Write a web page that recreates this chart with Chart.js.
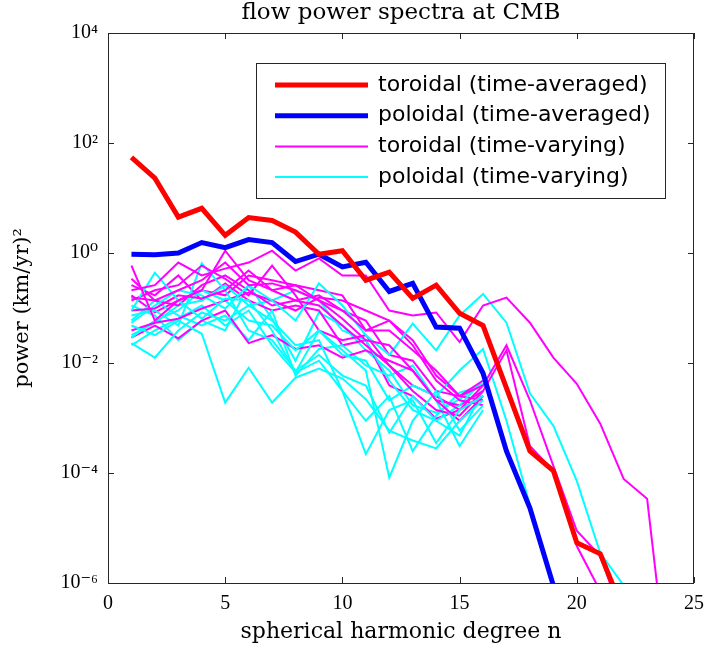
<!DOCTYPE html>
<html>
<head>
<meta charset="utf-8">
<script src="https://cdn.jsdelivr.net/npm/chart.js@4/dist/chart.umd.min.js"></script>
<style>
  html, body { margin: 0; padding: 0; background: #fff; }
  #wrap { width: 706px; height: 654px; position: relative; }
</style>
</head>
<body>
<div id="wrap"><canvas id="spectra"></canvas></div>
<script>
// --- Data ---
const degrees = [1, 2, 3, 4, 5, 6, 7, 8, 9, 10, 11, 12, 13, 14, 15, 16, 17, 18, 19, 20, 21, 22, 23, 24];

const toroidalMean = [55, 23, 4.5, 6.5, 2.1, 4.4, 3.9, 2.4, 0.95, 1.1, 0.32, 0.45, 0.15, 0.26, 0.08, 0.048,
    0.0035, 2.5e-4, 1.1e-4, 5.4e-6, 3.4e-6, 3e-7];
const poloidalMean = [0.95, 0.93, 1.0, 1.55, 1.25, 1.75, 1.55, 0.7, 0.95, 0.56, 0.68, 0.2, 0.28, 0.045, 0.043, 0.0065,
    2.5e-4, 2.3e-5, 9e-7, 3e-8];

// time-varying toroidal spectra (one array per epoch)
const toroidalRuns = [
    [0.59, 0.059, 0.137, 0.21, 1.1, 0.32, 0.21, 0.26, 0.137, 0.09, 0.039, 0.039, 0.017, 0.0073, 0.0025, 0.0039, 0.021, 0.0021, 1.35e-4, 8.9e-6, 3.1e-6, 2e-7],
    [0.21, 0.26, 0.67, 0.39, 0.52, 0.67, 1.1, 0.48, 0.8, 0.39, 0.39, 0.09, 0.073, 0.083, 0.024, 0.111, 0.155, 0.054, 0.0125, 0.0042, 7.9e-4, 7.8e-5, 3.4e-5, 7e-9],
    [0.155, 0.137, 0.21, 0.32, 0.67, 0.26, 0.28, 0.21, 0.137, 0.064, 0.026, 0.021, 0.0073, 0.0021, 8.9e-4, 0.0025],
    [0.09, 0.098, 0.17, 0.149, 0.21, 0.48, 0.21, 0.137, 0.111, 0.048, 0.021, 0.009, 0.0031, 0.0014, 0.0011, 0.0031, 0.017, 3.1e-4, 1.1e-4, 4.7e-6, 7.1e-7],
    [0.039, 0.054, 0.064, 0.098, 0.137, 0.19, 0.137, 0.09, 0.155, 0.137, 0.09, 0.059, 0.021, 0.0048, 0.0021, 0.0017],
    [0.137, 0.21, 0.26, 0.59, 0.34, 0.17, 0.59, 0.17, 0.039, 0.026, 0.032, 0.009, 0.0039, 0.0025, 0.0014, 0.0025],
    [0.34, 0.137, 0.111, 0.26, 0.39, 0.21, 0.111, 0.137, 0.17, 0.09, 0.059, 0.014, 0.011, 0.0031, 0.0025, 0.0048],
    [0.029, 0.048, 0.028, 0.059, 0.09, 0.023, 0.032, 0.018, 0.021, 0.0125, 0.017, 0.011, 0.0073, 0.0021, 0.0017, 0.0031],
    [0.17, 0.083, 0.137, 0.21, 0.17, 0.39, 0.32, 0.26, 0.21, 0.17, 0.039, 0.059, 0.026, 0.0059, 0.0025, 0.0021],
    [0.26, 0.17, 0.39, 0.137, 0.28, 0.137, 0.09, 0.111, 0.09, 0.021, 0.026, 0.0039, 0.0025, 9.7e-4, 0.0014, 0.0039]
];

// time-varying poloidal spectra
const poloidalRuns = [
    [0.048, 0.032, 0.059, 0.034, 0.0019, 0.0082, 0.0019, 0.0054, 0.0079, 0.0052, 0.0022, 5.9e-4, 3.9e-4, 2.8e-4, 8.9e-4, 0.0021],
    [0.023, 0.0125, 0.039, 0.083, 0.059, 0.111, 0.059, 0.021, 0.026, 0.0031, 2.2e-4, 0.0014, 0.0021, 3.5e-4, 0.0014, 0.0025],
    [0.09, 0.44, 0.137, 0.064, 0.149, 0.137, 0.039, 0.0067, 0.039, 0.017, 0.0073, 8.2e-5, 8.9e-4, 0.0031, 5.9e-4, 0.0017],
    [0.054, 0.111, 0.21, 0.17, 0.098, 0.26, 0.137, 0.059, 0.28, 0.111, 0.032, 0.014, 0.052, 0.017, 0.073, 0.18, 0.054, 0.0028, 7.2e-4, 7.2e-5, 3.5e-6, 9e-7, 2e-7],
    [0.029, 0.059, 0.09, 0.21, 0.137, 0.059, 0.048, 0.017, 0.039, 0.014, 0.011, 0.0021, 0.0039, 0.0025, 0.0073, 0.018, 8.9e-4, 2.6e-5],
    [0.073, 0.09, 0.048, 0.65, 0.21, 0.039, 0.026, 0.0073, 0.014, 0.0059, 0.0039, 5.4e-4, 0.0025, 8.9e-4, 4.8e-4, 0.0031],
    [0.032, 0.054, 0.111, 0.137, 0.26, 0.111, 0.137, 0.21, 0.137, 0.039, 0.026, 0.0048, 0.0014, 8.9e-4, 0.0017, 0.0048],
    [0.059, 0.137, 0.073, 0.048, 0.073, 0.026, 0.09, 0.0059, 0.018, 0.021, 0.009, 0.0059, 0.009, 0.0021, 3.1e-4, 0.0014],
    [0.021, 0.039, 0.064, 0.111, 0.048, 0.09, 0.021, 0.0067, 0.011, 0.0031, 8.9e-4, 0.0025, 2.5e-4, 0.0011, 0.0029, 0.0039],
    [0.111, 0.073, 0.026, 0.059, 0.039, 0.26, 0.064, 0.011, 0.083, 0.048, 0.017, 0.0073, 0.0017, 0.00125, 0.0022, 0.0042]
];

const legendLabels = ['toroidal (time-averaged)', 'poloidal (time-averaged)', 'toroidal (time-varying)', 'poloidal (time-varying)'];
const yTickValues = [1e-6, 1e-4, 1e-2, 1, 1e2, 1e4];
const yTickLabels = ['10\u207B\u2076', '10\u207B\u2074', '10\u207B\u00B2', '10\u2070', '10\u00B2', '10\u2074'];
const xTickValues = [0, 5, 10, 15, 20, 25];

const RED = '#ff0000', BLUE = '#0000ff', MAGENTA = '#ff00ff', CYAN = '#00ffff';
const AXIS = '#262626';
const SERIF = '"Liberation Serif", "DejaVu Serif", serif';
const WIDE_SERIF = '"DejaVu Serif", serif';

function toPoints(values) {
    return values.map((v, i) => ({ x: degrees[i], y: v }));
}

function lineSet(label, values, color, width) {
    return {
        label,
        data: toPoints(values),
        borderColor: color,
        backgroundColor: color,
        borderWidth: width,
        pointRadius: 0,
        tension: 0,
        fill: false,
        clip: 0,
        borderJoinStyle: 'miter'
    };
}

const datasets = [
    lineSet(legendLabels[0], toroidalMean, RED, 5),
    lineSet(legendLabels[1], poloidalMean, BLUE, 5)
];
// interleave the time-varying runs so neither colour sits entirely on top
toroidalRuns.forEach((run, i) => {
    datasets.push(lineSet(legendLabels[2], run, MAGENTA, 2));
    datasets.push(lineSet(legendLabels[3], poloidalRuns[i], CYAN, 2));
});

// --- Frame, inward ticks, title and legend (MATLAB style) ---
const framePlugin = {
    id: 'frame',
    afterDraw(chart) {
        const { ctx, chartArea: a, scales } = chart;
        ctx.save();
        ctx.strokeStyle = AXIS;
        ctx.lineWidth = 1;
        ctx.strokeRect(a.left + 0.5, a.top + 0.5, a.right - a.left - 1, a.bottom - a.top);
        const tl = 6;
        ctx.beginPath();
        xTickValues.forEach(v => {
            const px = Math.round(scales.x.getPixelForValue(v)) + 0.5;
            ctx.moveTo(px, a.bottom); ctx.lineTo(px, a.bottom - tl);
            ctx.moveTo(px, a.top); ctx.lineTo(px, a.top + tl);
        });
        yTickValues.forEach(v => {
            const py = Math.round(scales.y.getPixelForValue(v)) + 0.5;
            ctx.moveTo(a.left, py); ctx.lineTo(a.left + tl, py);
            ctx.moveTo(a.right, py); ctx.lineTo(a.right - tl, py);
        });
        ctx.stroke();

        // title
        ctx.fillStyle = '#000';
        ctx.font = '23px ' + WIDE_SERIF;
        ctx.textAlign = 'center';
        ctx.textBaseline = 'middle';
        ctx.fillText('flow power spectra at CMB', (a.left + a.right) / 2, 13);

        // legend
        const box = { x: 256, y: 63, w: 409, h: 135 };
        ctx.fillStyle = '#fff';
        ctx.fillRect(box.x, box.y, box.w, box.h);
        ctx.lineWidth = 1;
        ctx.strokeStyle = AXIS;
        ctx.strokeRect(box.x + 0.5, box.y + 0.5, box.w, box.h);
        const styles = [[RED, 5], [BLUE, 5], [MAGENTA, 2], [CYAN, 2]];
        ctx.font = '22px "DejaVu Sans", sans-serif';
        ctx.textAlign = 'left';
        legendLabels.forEach((label, i) => {
            const yy = box.y + 22 + i * 30.7;
            ctx.strokeStyle = styles[i][0];
            ctx.lineWidth = styles[i][1];
            ctx.beginPath();
            ctx.moveTo(275, yy); ctx.lineTo(368, yy);
            ctx.stroke();
            ctx.fillStyle = '#000';
            ctx.fillText(label, 378, yy);
        });
        ctx.restore();
    }
};

new Chart(document.getElementById('spectra'), {
    type: 'line',
    data: { datasets },
    options: {
        responsive: true,
        maintainAspectRatio: false,
        animation: false,
        events: [],
        layout: { padding: { top: 33, right: 12, bottom: 0, left: 0 } },
        plugins: { legend: { display: false }, tooltip: { enabled: false }, title: { display: false } },
        scales: {
            x: {
                type: 'linear',
                min: 0,
                max: 25,
                afterBuildTicks: scale => { scale.ticks = xTickValues.map(v => ({ value: v })); },
                afterFit: scale => { scale.height = 71; scale.paddingLeft = 0; scale.paddingRight = 0; },
                grid: { display: true, drawOnChartArea: false, drawTicks: false },
                border: { display: false },
                ticks: { color: '#000', padding: 9, maxRotation: 0, font: { family: SERIF, size: 20 } },
                title: { display: true, text: 'spherical harmonic degree n', color: '#000', font: { family: WIDE_SERIF, size: 22 }, padding: { top: 0, bottom: 9 } }
            },
            y: {
                type: 'logarithmic',
                min: 1e-6,
                max: 1e4,
                afterBuildTicks: scale => { scale.ticks = yTickValues.map(v => ({ value: v })); },
                afterFit: scale => { scale.width = 108; scale.paddingTop = 0; scale.paddingBottom = 0; },
                grid: { display: true, drawOnChartArea: false, drawTicks: false },
                border: { display: false },
                ticks: {
                    color: '#000', padding: 10, font: { family: SERIF, size: 20 },
                    callback: value => {
                        const i = yTickValues.findIndex(v => Math.abs(Math.log10(v) - Math.log10(value)) < 1e-6);
                        return i >= 0 ? yTickLabels[i] : '';
                    }
                },
                title: { display: true, text: 'power (km/yr)\u00B2', color: '#000', font: { family: WIDE_SERIF, size: 21 }, padding: { top: 10, bottom: 0 } }
            }
        }
    },
    plugins: [framePlugin]
});
</script>
</body>
</html>
